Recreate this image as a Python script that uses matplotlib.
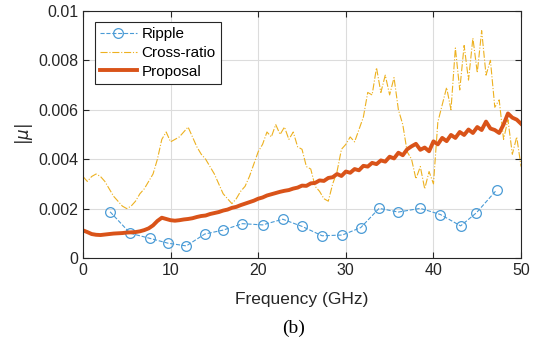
import numpy as np
import matplotlib.pyplot as plt

plt.rcParams['font.family'] = ['Liberation Sans', 'DejaVu Sans']

# ---- data ----
ripple_f = [3.1, 5.4, 7.6, 9.7, 11.8, 13.9, 16.0, 18.2, 20.5, 22.8, 25.0,
            27.3, 29.6, 31.7, 33.8, 36.0, 38.5, 40.8, 43.1, 44.9, 47.2]
ripple_mu = [0.00187, 0.00100, 0.00080, 0.00060, 0.00049, 0.00097, 0.00113,
             0.00139, 0.00134, 0.00157, 0.00128, 0.00090, 0.00093, 0.00123,
             0.00201, 0.00186, 0.00201, 0.00176, 0.00130, 0.00183, 0.00275]

freq = np.arange(0, 50.01, 0.5)

cross_mu = [0.0033, 0.0031, 0.0033, 0.0034, 0.0033, 0.0031, 0.0028, 0.0025,
            0.0023, 0.0021, 0.0020, 0.0021, 0.0023, 0.0026, 0.0028, 0.0031,
            0.0034, 0.0040, 0.0048, 0.0051, 0.0047, 0.0048, 0.0049, 0.0051,
            0.0053, 0.0049, 0.0045, 0.0042, 0.0040, 0.0037, 0.0034, 0.0030,
            0.0026, 0.0024, 0.0022, 0.0024, 0.0027, 0.0029, 0.0033, 0.0038,
            0.0043, 0.0046, 0.0051, 0.0049, 0.0054, 0.0050, 0.0053, 0.0048,
            0.0051, 0.0045, 0.0044, 0.0037, 0.0036, 0.0029, 0.0027, 0.0024,
            0.0023, 0.0030, 0.0035, 0.0044, 0.0046, 0.0049, 0.0047, 0.0052,
            0.0057, 0.0067, 0.0066, 0.0077, 0.0067, 0.0074, 0.0066, 0.0073,
            0.0060, 0.0054, 0.0043, 0.0040, 0.0032, 0.0037, 0.0028, 0.0035,
            0.0030, 0.0055, 0.0062, 0.0069, 0.0060, 0.0085, 0.0068, 0.0086,
            0.0072, 0.0089, 0.0075, 0.0092, 0.0074, 0.0080, 0.0061, 0.0064,
            0.0048, 0.0056, 0.0042, 0.0049, 0.0037]

prop_mu = [0.00112, 0.00105, 0.00097, 0.00094, 0.00093, 0.00095, 0.00097,
           0.00099, 0.00100, 0.00101, 0.00103, 0.00104, 0.00105, 0.00108,
           0.00113, 0.00120, 0.00132, 0.00150, 0.00163, 0.00158, 0.00153,
           0.00151, 0.00153, 0.00156, 0.00158, 0.00161, 0.00166, 0.00170,
           0.00172, 0.00178, 0.00182, 0.00186, 0.00192, 0.00196, 0.00203,
           0.00207, 0.00214, 0.00220, 0.00226, 0.00232, 0.00240, 0.00245,
           0.00253, 0.00258, 0.00263, 0.00268, 0.00272, 0.00275, 0.00281,
           0.00285, 0.00293, 0.00292, 0.00302, 0.00304, 0.00314, 0.00312,
           0.00324, 0.00327, 0.00340, 0.00332, 0.00350, 0.00345, 0.00360,
           0.00355, 0.00373, 0.00370, 0.00385, 0.00380, 0.00395, 0.00390,
           0.00410, 0.00403, 0.00426, 0.00416, 0.00440, 0.00452, 0.00462,
           0.00438, 0.00447, 0.00432, 0.00472, 0.00460, 0.00486, 0.00473,
           0.00498, 0.00486, 0.00510, 0.00498, 0.00520, 0.00506, 0.00530,
           0.00518, 0.00552, 0.00524, 0.00518, 0.00506, 0.00540, 0.00585,
           0.00568, 0.00560, 0.00543]

# ---- plot ----
fig = plt.figure(figsize=(5.35, 3.52), dpi=100)
ax = fig.add_axes([0.155, 0.267, 0.819, 0.702])

ax.plot(ripple_f, ripple_mu, '--o', color='#4A9BD6', lw=0.8, ms=7,
        mfc='none', mew=0.9, label='Ripple')
ax.plot(freq, cross_mu, '-.', color='#EDB120', lw=0.8, label='Cross-ratio')
ax.plot(freq, prop_mu, '-', color='#D95319', lw=2.8, label='Proposal')

ax.set_xlim(0, 50)
ax.set_ylim(0, 0.01)
ax.set_xticks([0, 10, 20, 30, 40, 50])
ax.set_yticks([0, 0.002, 0.004, 0.006, 0.008, 0.01])
ax.set_yticklabels(['0', '0.002', '0.004', '0.006', '0.008', '0.01'])
ax.tick_params(direction='in', top=True, right=True, labelsize=11.5,
               colors='#262626', length=4)
ax.grid(True, color='#DCDCDC', lw=0.8)
ax.set_axisbelow(True)
for s in ax.spines.values():
    s.set_color('#262626')
    s.set_linewidth(0.8)

ax.set_xlabel('Frequency (GHz)', fontsize=12.5, color='#262626', labelpad=10)
ax.set_ylabel(r'$|\mu|$', fontsize=12, color='#262626', labelpad=2)

leg = ax.legend(loc='upper left', bbox_to_anchor=(0.027, 0.955), fontsize=11,
                fancybox=False, framealpha=1, edgecolor='#262626',
                handlelength=2.4, borderpad=0.35, labelspacing=0.3,
                handletextpad=0.3, borderaxespad=0)
leg.get_frame().set_linewidth(0.8)

fig.text(0.548, 0.068, '(b)', fontsize=14, ha='center', va='center',
         family='Liberation Serif')

fig.savefig('out.png', dpi=100)
